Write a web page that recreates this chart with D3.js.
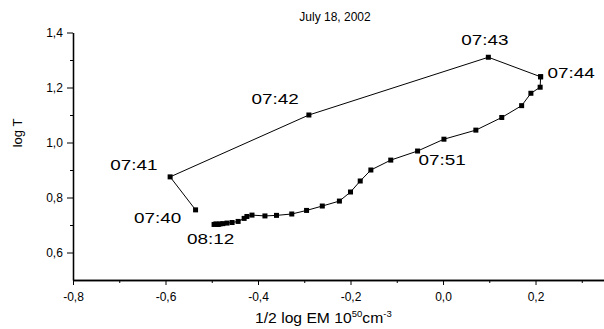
<!DOCTYPE html>
<html><head><meta charset="utf-8">
<script src="https://cdn.jsdelivr.net/npm/d3@7"></script>
<style>body{margin:0;background:#fff}svg{display:block}text{font-family:"Liberation Sans",Arial,sans-serif;fill:#000}</style>
</head><body><svg id="c" width="604" height="329"></svg>
<script>
// Rising phase (07:40 -> 07:44)
const riseX = [-0.535, -0.590, -0.290, 0.098, 0.211];
const riseY = [0.755, 0.875, 1.100, 1.310, 1.239];
// Decay phase, one point per minute (07:44 -> 08:12)
const decayX = [0.211, 0.210, 0.190, 0.170, 0.127, 0.071, 0.002, -0.055, -0.113, -0.156,
  -0.179, -0.200, -0.224, -0.261, -0.295, -0.327, -0.360, -0.385, -0.413, -0.424,
  -0.430, -0.443, -0.456, -0.467, -0.476, -0.482, -0.486, -0.491, -0.495];
const decayY = [1.239, 1.201, 1.179, 1.134, 1.091, 1.045, 1.012, 0.969, 0.936, 0.900,
  0.860, 0.820, 0.787, 0.769, 0.753, 0.740, 0.735, 0.733, 0.736, 0.731,
  0.724, 0.713, 0.709, 0.707, 0.705, 0.704, 0.702, 0.704, 0.702];
const timeLabels = ["07:40", "07:41", "07:42", "07:43", "07:44", "07:51", "08:12"];
const labelX = [-0.535, -0.590, -0.290, 0.098, 0.211, -0.055, -0.495];
const labelY = [0.755, 0.875, 1.100, 1.310, 1.239, 0.969, 0.702];
const xMajor = [-0.8, -0.6, -0.4, -0.2, 0.0, 0.2];
const xMinor = [-0.7, -0.5, -0.3, -0.1, 0.1, 0.3];
const yMajor = [0.6, 0.8, 1.0, 1.2, 1.4];
const yMinor = [0.7, 0.9, 1.1, 1.3];
const title = "July 18, 2002";

const svg = d3.select("#c");
const x = d3.scaleLinear().domain([-0.8, 0.35]).range([73, 604.9]);
const y = d3.scaleLinear().domain([0.5, 1.4]).range([280, 32.5]);
const fmt = d => d3.format(".1f")(d).replace(".", ",").replace("−", "-");

// x axis
const gx = svg.append("g").attr("transform", `translate(0,${y(0.5)})`);
gx.call(d3.axisBottom(x).tickValues(xMajor).tickFormat(fmt).tickSize(5).tickSizeOuter(0));
gx.append("g").call(d3.axisBottom(x).tickValues(xMinor).tickFormat("").tickSize(3).tickSizeOuter(0));
// y axis
const gy = svg.append("g").attr("transform", `translate(${x(-0.8)},0)`);
gy.call(d3.axisLeft(y).tickValues(yMajor).tickFormat(fmt).tickSize(6).tickSizeOuter(0));
gy.append("g").call(d3.axisLeft(y).tickValues(yMinor).tickFormat("").tickSize(3).tickSizeOuter(0));
svg.selectAll(".domain").attr("stroke", "#000").attr("stroke-width", 1.3);
svg.selectAll(".tick line").attr("stroke", "#000").attr("stroke-width", 1);
svg.selectAll(".tick text").style("font-family", "Liberation Sans, Arial, sans-serif").attr("font-size", 12).attr("fill", "#000");
gx.selectAll(".tick text").attr("dy", "1.05em");
gy.selectAll(".tick text").attr("dx", "-0.1em");

// lines
const line = d3.line().x(d => x(d[0])).y(d => y(d[1]));
const rise = riseX.map((v, i) => [v, riseY[i]]);
const decay = decayX.map((v, i) => [v, decayY[i]]);
[rise, decay].forEach(pts => {
  svg.append("path").attr("d", line(pts)).attr("fill", "none").attr("stroke", "#000").attr("stroke-width", 1);
  svg.append("g").selectAll("rect").data(pts).join("rect")
    .attr("x", d => x(d[0]) - 2.5).attr("y", d => y(d[1]) - 2.5)
    .attr("width", 5).attr("height", 5).attr("fill", "#000");
});

// time labels (offsets in px relative to point: left edge, baseline)
const off = [[-61.5, 13], [-60, -7], [-57.5, -11], [-27, -12], [7, 1], [1, 14], [-27, 20]];
svg.append("g").selectAll("text").data(timeLabels).join("text")
  .attr("transform", (d, i) => `translate(${x(labelX[i]) + off[i][0]},${y(labelY[i]) + off[i][1]}) scale(1.22,1)`)
  .attr("font-size", 15.5).text(d => d);

// title
svg.append("text").attr("x", 335).attr("y", 21).attr("text-anchor", "middle").attr("font-size", 12).text(title);

// axis titles
const xt = svg.append("text").attr("transform", "translate(255,323) scale(1.12,1)").attr("font-size", 14);
xt.append("tspan").text("1/2 log EM 10");
xt.append("tspan").attr("font-size", 8.5).attr("dy", -6).text("50");
xt.append("tspan").attr("dy", 6).text("cm");
xt.append("tspan").attr("font-size", 8.5).attr("dy", -6).text("-3");
svg.append("text").attr("transform", "translate(22,133) rotate(-90)").attr("text-anchor", "middle").attr("font-size", 13).text("log T");
</script></body></html>
